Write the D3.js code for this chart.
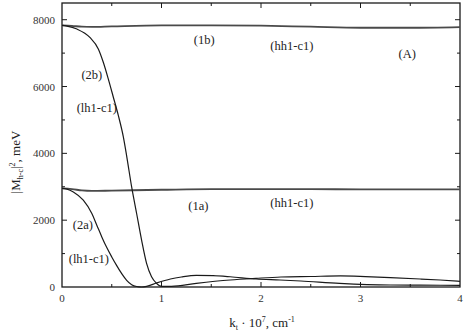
<!DOCTYPE html>
<html><head><meta charset="utf-8">
<script src="https://cdn.jsdelivr.net/npm/d3@7"></script>
<style>body{margin:0;background:#fff}</style>
</head><body><svg id="c" width="467" height="336" font-family="'Liberation Serif','Times New Roman',serif"></svg>
<script>
// data
const k1 = [0,0.1,0.2,0.3,0.5,1,1.5,2,2.5,3,3.5,4];
const s1b = [7830,7815,7790,7785,7800,7830,7830,7820,7790,7760,7760,7780];
const s1a = [2950,2930,2890,2875,2885,2910,2930,2930,2930,2920,2920,2920];
const k2b = [0,0.05,0.15,0.28,0.365,0.415,0.465,0.516,0.566,0.616,0.65,0.70,0.75,0.80,0.85,0.90,0.95,1.0,1.1,1.35,1.69,1.95,2.2,2.5,2.8,3.05,3.3,3.6,3.8,4.0];
const s2b = [7830,7810,7720,7470,7125,6726,6230,5680,5135,4500,3920,2994,2200,1403,707,307,110,20,20,110,210,260,300,315,330,310,280,240,210,170];
const k2a = [0,0.05,0.114,0.214,0.30,0.35,0.40,0.45,0.50,0.55,0.60,0.65,0.70,0.75,0.80,0.85,0.95,1.09,1.2,1.35,1.52,1.69,1.95,2.19,2.4,2.79,3.3,3.6,4.0];
const s2a = [2950,2930,2845,2597,2200,1850,1500,1180,900,640,400,200,70,15,0,20,120,240,300,350,340,307,240,210,180,110,60,55,50];
const xTicks = [0,1,2,3,4];
const yTicks = [0,2000,4000,6000,8000];
const labels = [
  {t:"(1b)", k:1.43, v:7380},
  {t:"(hh1-c1)", k:2.31, v:7200},
  {t:"(A)", k:3.47, v:6960},
  {t:"(2b)", k:0.30, v:6350},
  {t:"(lh1-c1)", k:0.35, v:5360},
  {t:"(1a)", k:1.37, v:2420},
  {t:"(hh1-c1)", k:2.31, v:2510},
  {t:"(2a)", k:0.21, v:1860},
  {t:"(lh1-c1)", k:0.27, v:850}
];

const svg = d3.select("#c");
const L=62, R=460, T=3, B=287;
const x = d3.scaleLinear().domain([0,4]).range([L,R]);
const y = d3.scaleLinear().domain([0,8500]).range([B,T]);
const ink = "#1a1a1a";

// frame
svg.append("rect").attr("x",L).attr("y",T).attr("width",R-L).attr("height",B-T)
  .attr("fill","none").attr("stroke",ink).attr("stroke-width",1.3);

const g = svg.append("g");
d3.range(0.5,4,0.5).forEach(v=>{
  const len = (v%1===0)?5:3;
  g.append("line").attr("x1",x(v)).attr("x2",x(v)).attr("y1",B).attr("y2",B-len).attr("stroke",ink);
  g.append("line").attr("x1",x(v)).attr("x2",x(v)).attr("y1",T).attr("y2",T+len).attr("stroke",ink);
});
d3.range(1000,8500,1000).forEach(v=>{
  const len = (v%2000===0)?5:3;
  g.append("line").attr("x1",L).attr("x2",L+len).attr("y1",y(v)).attr("y2",y(v)).attr("stroke",ink);
  g.append("line").attr("x1",R).attr("x2",R-len).attr("y1",y(v)).attr("y2",y(v)).attr("stroke",ink);
});

xTicks.forEach(v=>{
  svg.append("text").attr("x",x(v)).attr("y",302).attr("text-anchor","middle")
    .attr("font-size",11).attr("fill","#333").text(v);
});
yTicks.forEach(v=>{
  svg.append("text").attr("x",55).attr("y",y(v)+4).attr("text-anchor","end")
    .attr("font-size",11).attr("fill","#333").text(v);
});

// axis titles
const xl = svg.append("text").attr("x",262).attr("y",327).attr("text-anchor","middle").attr("font-size",13).attr("fill","#222");
xl.append("tspan").text("k");
xl.append("tspan").attr("font-size",8).attr("dy",3).text("t");
xl.append("tspan").attr("dy",-3).text(" · 10");
xl.append("tspan").attr("font-size",8).attr("dy",-5).text("7");
xl.append("tspan").attr("dy",5).text(", cm");
xl.append("tspan").attr("font-size",8).attr("dy",-5).text("-1");

const yl = svg.append("text").attr("transform","translate(20,162) rotate(-90)").attr("text-anchor","middle").attr("font-size",13).attr("fill","#222");
yl.append("tspan").text("|M");
yl.append("tspan").attr("font-size",8).attr("dy",3).text("h-c");
yl.append("tspan").attr("dy",-3).text("|");
yl.append("tspan").attr("font-size",8).attr("dy",-5).text("2");
yl.append("tspan").attr("dy",5).text(", meV");

// curves
const line = d3.line().curve(d3.curveMonotoneX).x(d=>x(d[0])).y(d=>y(d[1]));
svg.append("clipPath").attr("id","cp").append("rect").attr("x",L).attr("y",T).attr("width",R-L).attr("height",B-T+1);
const pg = svg.append("g").attr("clip-path","url(#cp)");
pg.append("path").attr("d",line(d3.zip(k1,s1b))).attr("fill","none").attr("stroke","#4a4a4a").attr("stroke-width",1.8);
pg.append("path").attr("d",line(d3.zip(k1,s1a))).attr("fill","none").attr("stroke","#4a4a4a").attr("stroke-width",1.8);
pg.append("path").attr("d",line(d3.zip(k2b,s2b))).attr("fill","none").attr("stroke",ink).attr("stroke-width",1.2);
pg.append("path").attr("d",line(d3.zip(k2a,s2a))).attr("fill","none").attr("stroke",ink).attr("stroke-width",1.2);

labels.forEach(l=>{
  svg.append("text").attr("x",x(l.k)).attr("y",y(l.v)+4).attr("text-anchor","middle")
    .attr("font-size",12.5).attr("fill","#222").text(l.t);
});
</script></body></html>
